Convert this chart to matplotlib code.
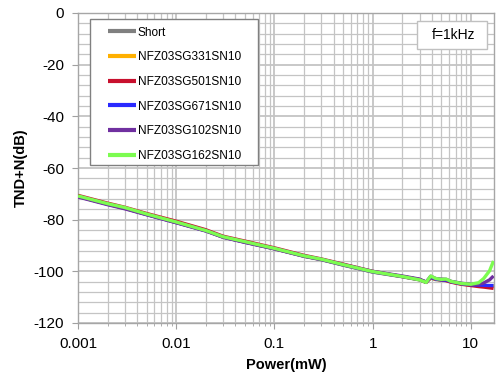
import matplotlib
matplotlib.use("Agg")
import matplotlib.pyplot as plt
from matplotlib.patches import Rectangle
from matplotlib.ticker import MultipleLocator, LogLocator, NullFormatter

plt.rcParams['font.family'] = ['Liberation Sans', 'DejaVu Sans']
plt.rcParams['axes.unicode_minus'] = False

power = [0.001, 0.002, 0.003, 0.005, 0.01, 0.02, 0.03, 0.05, 0.1, 0.2, 0.3, 0.5,
         1, 2, 3, 3.5, 3.9, 4.4, 5, 5.6, 6.3, 8, 10, 12, 13.5, 15.5, 17]

short = [-71.0, -74.0, -75.6, -78.0, -81.1, -84.3, -86.8, -88.7, -91.3, -94.2, -95.5, -97.6,
         -100.3, -102.1, -103.3, -104.1, -102.6, -103.2, -103.4, -103.5, -104.0, -104.8,
         -105.2, -105.4, -105.5, -105.6, -105.6]
nfz331 = [-70.9, -73.9, -75.5, -77.9, -81.0, -84.2, -86.7, -88.6, -91.2, -94.1, -95.4, -97.5,
          -100.2, -102.0, -103.2, -104.2, -102.5, -103.1, -103.3, -103.5, -104.1, -104.9,
          -105.3, -105.5, -105.6, -105.7, -105.8]
nfz501 = [-70.6, -73.6, -75.2, -77.6, -80.6, -83.9, -86.4, -88.3, -90.9, -93.8, -95.2, -97.2,
          -100.0, -102.0, -103.2, -104.3, -102.4, -103.0, -103.3, -103.6, -104.2, -105.0,
          -105.5, -105.9, -106.1, -106.4, -106.6]
nfz671 = [-71.0, -74.0, -75.6, -78.0, -81.1, -84.3, -86.7, -88.7, -91.2, -94.1, -95.4, -97.5,
          -100.2, -102.0, -103.2, -104.2, -102.3, -103.0, -103.3, -103.4, -104.0, -104.8,
          -105.2, -105.3, -105.4, -105.5, -105.5]
nfz102 = [-71.2, -74.2, -75.8, -78.1, -81.2, -84.4, -86.8, -88.8, -91.3, -94.1, -95.4, -97.4,
          -100.0, -101.8, -103.0, -104.2, -101.9, -102.8, -103.0, -103.1, -103.9, -104.6,
          -105.0, -105.0, -104.5, -103.3, -101.8]
nfz162 = [-70.8, -73.8, -75.3, -77.8, -80.9, -84.2, -86.6, -88.5, -91.1, -94.0, -95.3, -97.4,
          -100.1, -102.0, -103.3, -104.3, -101.8, -102.8, -103.1, -103.0, -103.9, -104.7,
          -105.0, -104.4, -102.8, -99.8, -96.0]

labels = ["Short", "NFZ03SG331SN10", "NFZ03SG501SN10", "NFZ03SG671SN10",
          "NFZ03SG102SN10", "NFZ03SG162SN10"]
colors = ["#808080", "#FFB000", "#C8102E", "#2A2AFF", "#7030A0", "#7CFC50"]
series = [short, nfz331, nfz501, nfz671, nfz102, nfz162]

xticks = [0.001, 0.01, 0.1, 1, 10]
xticklabels = ["0.001", "0.01", "0.1", "1", "10"]
yticks = [0, -20, -40, -60, -80, -100, -120]

fig = plt.figure(figsize=(5.01, 3.77), dpi=100)
ax = fig.add_axes([78 / 501, 54 / 377, 416 / 501, 310 / 377])

for y, c, lab in zip(series, colors, labels):
    ax.plot(power, y, color=c, lw=2.4, label=lab, solid_capstyle='butt', zorder=3)

ax.set_xscale('log')
ax.set_xlim(0.001, 17.2)
ax.set_ylim(-120, 0)
ax.set_xticks(xticks)
ax.set_xticklabels(xticklabels)
ax.xaxis.set_minor_locator(LogLocator(base=10, subs=range(2, 10)))
ax.xaxis.set_minor_formatter(NullFormatter())
ax.set_yticks(yticks)
ax.yaxis.set_minor_locator(MultipleLocator(4))

gcol = "#c4c4c4"
ax.grid(True, which='major', color=gcol, lw=1.3)
ax.grid(True, which='minor', color=gcol, lw=0.9)
ax.set_axisbelow(True)
for s in ax.spines.values():
    s.set_color("#a6a6a6")
    s.set_linewidth(1.0)

ax.tick_params(axis='both', which='major', labelsize=11, length=4, color="#a0a0a0", pad=6)
ax.tick_params(axis='x', which='minor', length=2.5, color="#a0a0a0")
ax.tick_params(axis='y', which='minor', length=0)

ax.set_xlabel("Power(mW)", fontsize=10.5, fontweight='bold', labelpad=5)
ax.set_ylabel("TND+N(dB)", fontsize=10.5, fontweight='bold', labelpad=4)

# legend frame
ax.add_patch(Rectangle((0.0288, 0.5097), 0.4039, 0.4709, transform=ax.transAxes,
                       fc='white', ec='#808080', lw=1.0, zorder=4))
leg = ax.legend(loc='upper left', bbox_to_anchor=(0.071, 0.956), fontsize=8.6,
                frameon=False, handlelength=2.4, handletextpad=0.15,
                labelspacing=1.06, borderpad=0, borderaxespad=0)
leg.set_zorder(5)
for h in leg.get_lines():
    h.set_linewidth(3)

# annotation box
ax.add_patch(Rectangle((0.815, 0.884), 0.168, 0.090, transform=ax.transAxes,
                       fc='white', ec='#c0c0c0', lw=1.0, zorder=4))
ax.text(0.902, 0.929, "f=1kHz", transform=ax.transAxes, fontsize=10,
        ha='center', va='center', zorder=5)

fig.savefig("out.png", dpi=100)
